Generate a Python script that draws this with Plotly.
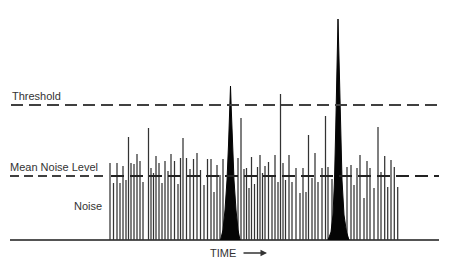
import plotly.graph_objects as go

# Noise spikes: time position and amplitude above baseline
spike_time = [110, 113.5, 117, 120, 123, 126, 128.5, 131, 134, 137, 140, 143, 148.5, 151, 153.5,
              156, 159, 162, 165, 168, 171, 174.5, 178, 180.5, 183, 186.5, 190, 193.5, 197, 200.5,
              204, 207.5, 211, 214, 217, 220, 223,
              238, 241, 244, 246.5, 249, 251.5, 254.5, 257.5, 260, 262.5, 265, 268.5, 272, 275,
              278, 280.5, 283, 285.5, 289, 292, 296, 300, 303, 306, 308.5, 312, 315, 318, 322,
              325.5, 328, 332,
              347, 351, 354, 357, 360, 364, 367, 370, 374, 378, 381, 384.7, 387.7, 391, 394.3, 397.7]
spike_height = [77, 57, 77, 57, 74, 60, 103, 77, 76, 86, 79, 58, 112, 72, 67,
                84, 77, 57, 79, 69, 86, 79, 56, 82, 102, 82, 71, 81, 87, 70,
                55, 81, 81, 48, 75, 65, 81,
                82, 122, 71, 72, 52, 83, 56, 73, 85, 67, 74, 78, 63, 85,
                58, 146, 77, 60, 85, 58, 72, 47, 72, 48, 105, 62, 87, 58, 72,
                124, 73, 61,
                73, 75, 55, 72, 85, 42, 79, 72, 52, 113, 68, 84, 53, 80, 73, 53]

# Signal peaks outlines (time, amplitude)
peak1_time = [220.5, 223, 225, 227, 228.5, 229.7, 230.5, 231.3, 232.5, 234, 236, 238, 240]
peak1_height = [0, 10, 30, 60, 95, 130, 154, 130, 95, 60, 30, 10, 0]
peak2_time = [328, 331, 333, 334.5, 335.7, 336.8, 338, 339.3, 340.5, 342, 344, 346.5, 349]
peak2_height = [0, 8, 25, 60, 110, 170, 221, 170, 110, 60, 25, 8, 0]

threshold_level = 135
mean_noise_level = 64
time_start, time_end = 10, 439
noise_start = 108

fig = go.Figure()

# baseline
fig.add_trace(go.Scatter(x=[time_start, time_end], y=[0, 0], mode="lines",
                         line=dict(color="#1a1a1a", width=1.6), hoverinfo="skip"))

# noise spikes
sx, sy = [], []
for t, h in zip(spike_time, spike_height):
    sx += [t, t, None]
    sy += [0, h, None]
fig.add_trace(go.Scatter(x=sx, y=sy, mode="lines",
                         line=dict(color="#333333", width=1.25), hoverinfo="skip"))

# peaks
for pt, ph in [(peak1_time, peak1_height), (peak2_time, peak2_height)]:
    fig.add_trace(go.Scatter(x=pt, y=ph, mode="lines", fill="toself",
                             fillcolor="#050505", line=dict(color="#050505", width=1),
                             hoverinfo="skip"))

# threshold line
fig.add_trace(go.Scatter(x=[time_start + 1, time_end], y=[threshold_level] * 2, mode="lines",
                         line=dict(color="#404040", width=2, dash="12px,6px"), hoverinfo="skip"))
# mean noise level line
fig.add_trace(go.Scatter(x=[time_start, noise_start], y=[mean_noise_level] * 2, mode="lines",
                         line=dict(color="#404040", width=2, dash="9px,5px"), hoverinfo="skip"))
fig.add_trace(go.Scatter(x=[noise_start + 3, time_end], y=[mean_noise_level] * 2, mode="lines",
                         line=dict(color="#222222", width=2.2, dash="13px,6px"), hoverinfo="skip"))

font = dict(family="Liberation Sans, Arial, sans-serif", size=11, color="#333333")
fig.add_annotation(x=10, y=144, text="Threshold", showarrow=False, xanchor="left", font=font)
fig.add_annotation(x=8, y=73, text="Mean Noise Level", showarrow=False, xanchor="left", font=font)
fig.add_annotation(x=72, y=34, text="Noise", showarrow=False, xanchor="left", font=font)
fig.add_annotation(x=223, y=-13, text="TIME", showarrow=False, xanchor="center", font=font)
fig.add_annotation(x=267, y=-13, ax=242, ay=-13, axref="x", ayref="y", text="",
                   showarrow=True, arrowhead=2, arrowsize=1, arrowwidth=1.3, arrowcolor="#333333")

fig.update_layout(width=459, height=266, margin=dict(l=0, r=0, t=0, b=0),
                  paper_bgcolor="white", plot_bgcolor="white", showlegend=False,
                  xaxis=dict(range=[0, 459], visible=False, fixedrange=True),
                  yaxis=dict(range=[-26, 240], visible=False, fixedrange=True))

fig.write_html("out.html", config={"displayModeBar": False})
